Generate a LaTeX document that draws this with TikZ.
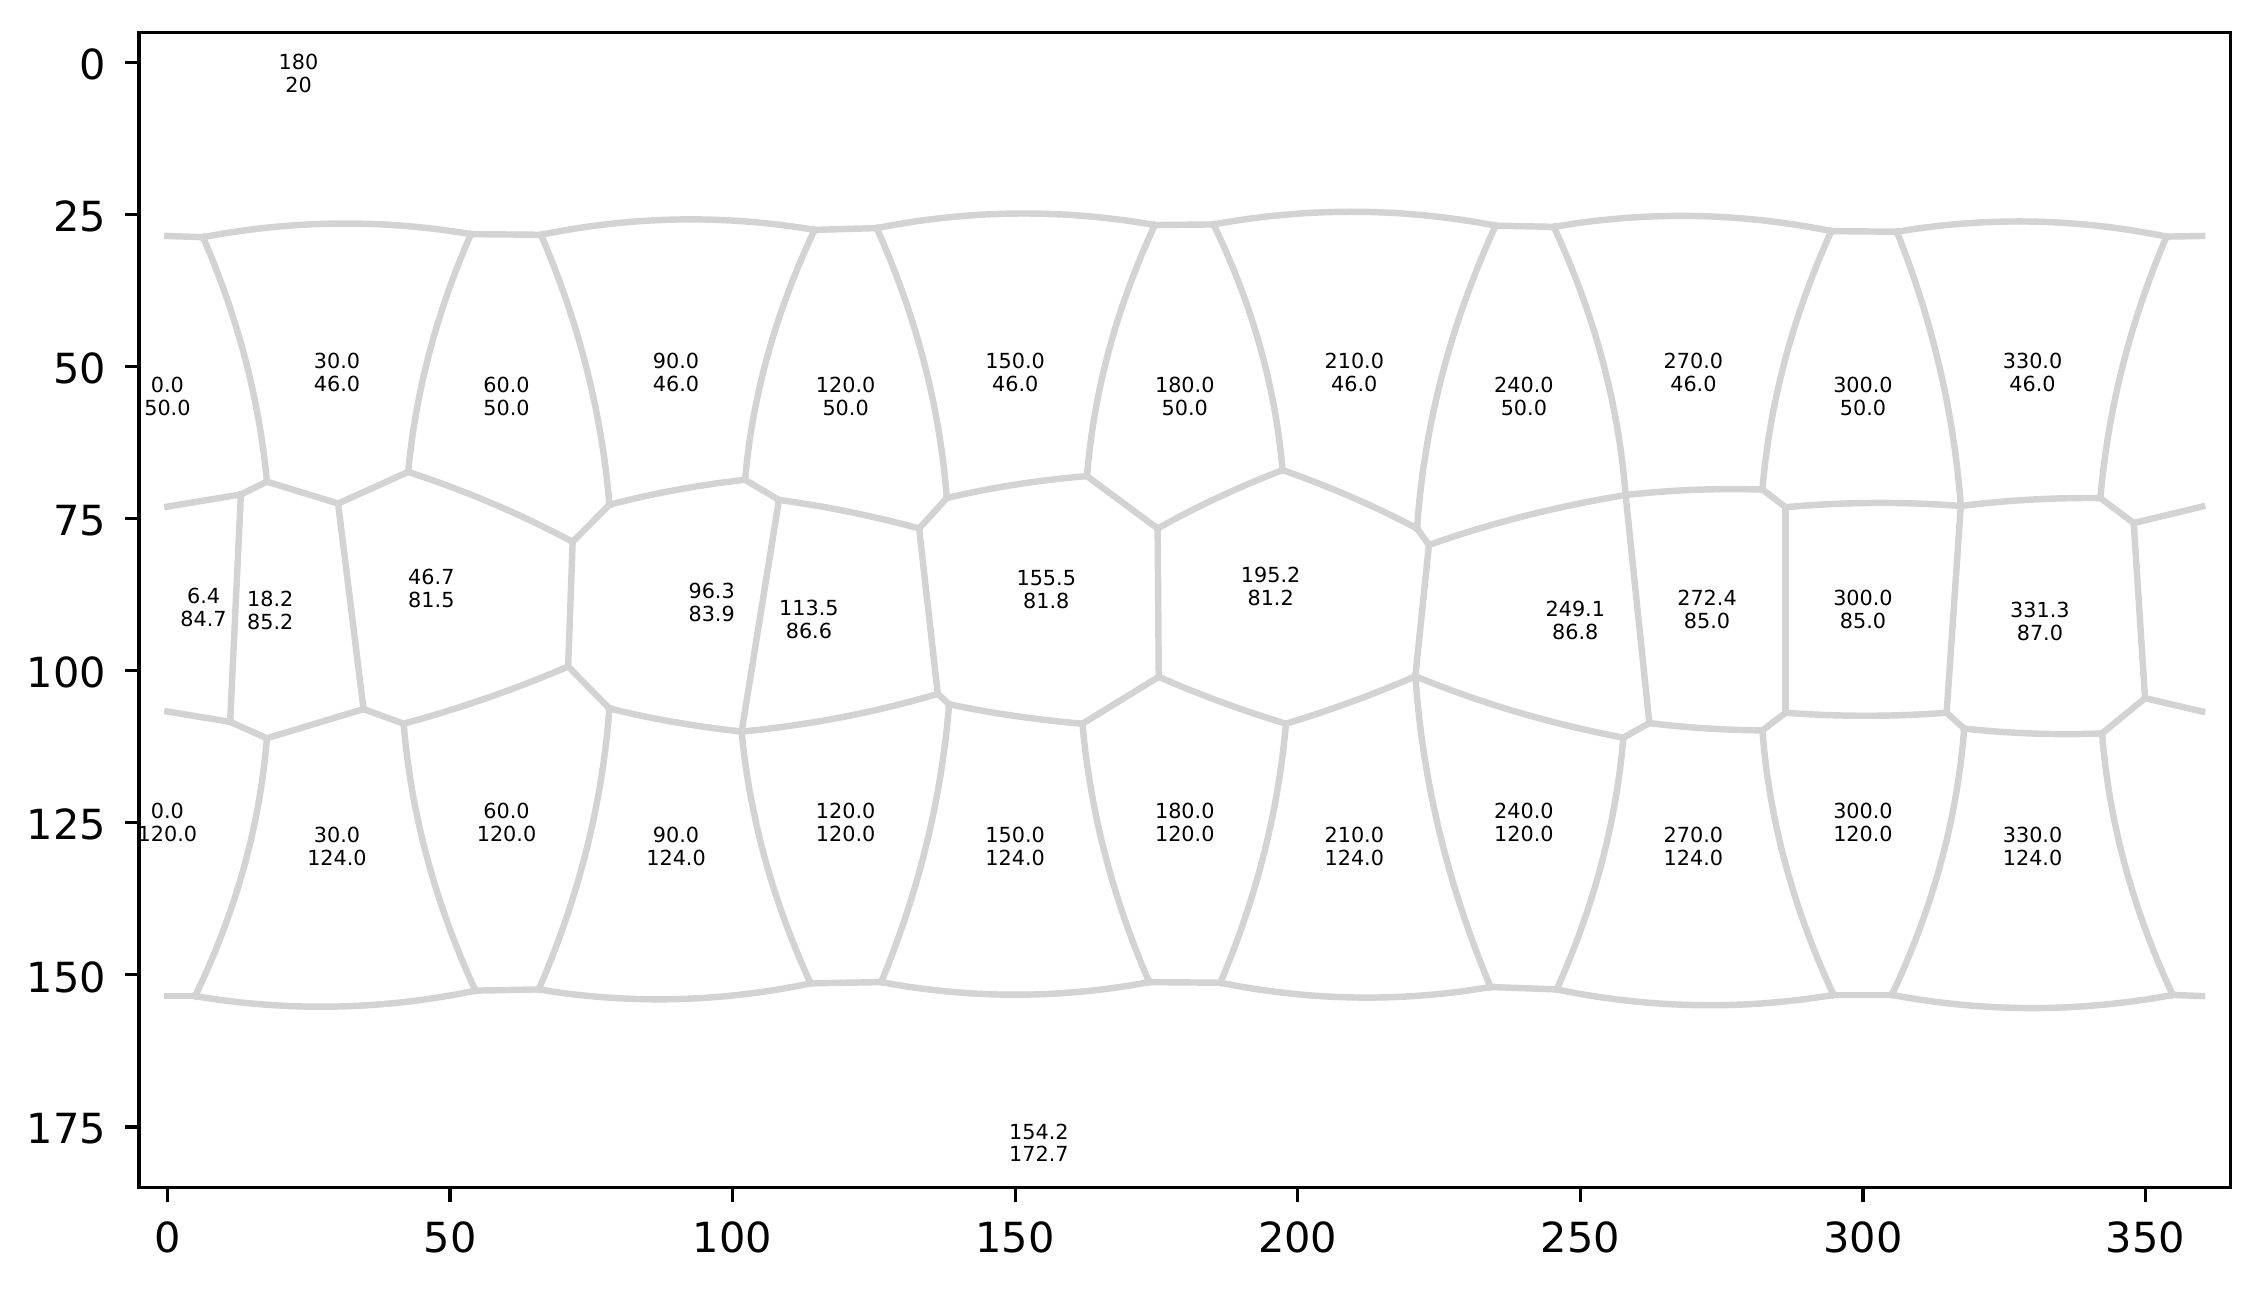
\documentclass[tikz,border=0pt]{standalone}
\usepackage{fontspec}
\setmainfont{DejaVu Sans}
\usepackage{tikz}
\usetikzlibrary{calc}

\definecolor{edgegray}{HTML}{D3D3D3}
\tikzset{
  cell/.style={draw=edgegray, line width=1.55pt, line cap=rect},
  axisframe/.style={draw=black, line width=0.8pt},
  lbl/.style={font=\fontsize{5}{5.5}\selectfont, align=center, inner sep=0pt, yshift=-7.2pt},
  ticklbl/.style={font=\fontsize{10}{12}\selectfont, inner sep=0pt}
}
% great-circle edge: from, to, offset of its middle from the chord middle
\newcommand{\gcarc}[4]{%
  \draw[cell] (#1) .. controls ($(#1)!1/3!(#2)+1.3333*(#3,#4)$)
    and ($(#1)!2/3!(#2)+1.3333*(#3,#4)$) .. (#2);}

\begin{document}
\begin{tikzpicture}[x=0.047853cm, y=-0.051477cm]
  \useasboundingbox (-29.62,-10.31) rectangle (370.95,201.69);

  % cell corners
  \foreach \n/\x/\y in {t0/0/28.5, t1/6.3/28.7, t2/53.7/28.2, t3/66.1/28.3, t4/114.5/27.5,
      t5/125.5/27.2, t6/174.7/26.7, t7/185.1/26.6, t8/235.0/26.8, t9/245.3/27.0,
      t10/294.4/27.7, t11/306.0/27.8, t12/353.7/28.6, t13/360/28.5}
    \coordinate (\n) at (\x,\y);
  \foreach \n/\x/\y in {u0/0/73.0, u1/13.0/71.0, u2/17.6/68.9, u3/30.2/72.5, u4/42.6/67.3,
      u5/71.7/78.8, u6/78.2/72.7, u7/102.2/68.6, u8/108.2/71.9, u9/133.0/76.6,
      u10/137.9/71.6, u11/162.7/68.0, u12/175.2/76.6, u13/197.3/67.0, u14/221.1/76.6,
      u15/223.2/79.3, u16/258.0/71.1, u17/282.2/70.2, u18/286.3/73.1, u19/317.3/72.9,
      u20/342.0/71.6, u21/347.9/75.7, u22/360/73.0}
    \coordinate (\n) at (\x,\y);
  \foreach \n/\x/\y in {l0/0/106.7, l1/11.1/108.4, l2/17.6/111.1, l3/34.7/106.3, l4/41.8/108.7,
      l5/70.9/99.3, l6/78.2/106.2, l7/101.6/110.0, l8/136.3/103.8, l9/138.3/105.5,
      l10/161.9/108.7, l11/175.4/101.0, l12/197.9/108.7, l13/220.8/100.9, l14/257.6/111.0,
      l15/262.2/108.6, l16/282.2/109.8, l17/286.3/106.9, l18/314.8/106.9, l19/317.9/109.5,
      l20/342.3/110.3, l21/349.9/104.5, l22/360/106.7}
    \coordinate (\n) at (\x,\y);
  \foreach \n/\x/\y in {b0/0/153.5, b1/4.9/153.5, b2/54.5/152.6, b3/65.7/152.4, b4/113.8/151.4,
      b5/126.3/151.2, b6/173.7/151.2, b7/186.3/151.3, b8/234.1/152.0, b9/245.8/152.4,
      b10/294.8/153.3, b11/305.1/153.3, b12/354.8/153.3, b13/360/153.5}
    \coordinate (\n) at (\x,\y);

  % straight edges
  \foreach \a/\b in {t0/t1, t2/t3, t4/t5, t6/t7, t8/t9, t10/t11, t12/t13,
      u0/u1, u1/u2, u2/u3, u3/u4, u5/u6, u7/u8, u9/u10, u11/u12, u14/u15, u17/u18,
      u20/u21, u21/u22,
      u1/l1, u3/l3, u5/l5, u8/l7, u9/l8, u12/l11, u15/l13, u16/l15, u18/l17, u19/l18, u21/l21,
      l0/l1, l1/l2, l2/l3, l3/l4, l5/l6, l8/l9, l10/l11, l14/l15, l16/l17, l18/l19,
      l20/l21, l21/l22,
      b0/b1, b2/b3, b4/b5, b6/b7, b8/b9, b10/b11, b12/b13}
    \draw[cell] (\a) -- (\b);

  % curved edges
  \foreach \a/\b/\dx/\dy in {t1/t2/0/-1.99, t3/t4/0/-2.11, t5/t6/0/-2.14, t7/t8/0/-2.18,
      t9/t10/0/-2.14, t11/t12/0/-2.07,
      t1/u2/1.81/-0.12, t2/u4/-1.78/-0.12, t3/u6/2.04/-0.14, t4/u7/-2.08/-0.15,
      t5/u10/2.17/-0.14, t6/u11/-2.09/-0.14, t7/u13/2.11/-0.14, t8/u14/-2.56/-0.18,
      t9/u16/2.24/-0.16, t10/u17/-2.07/-0.14, t11/u19/1.93/-0.12, t12/u20/-1.93/-0.13,
      u4/u5/0.46/-0.52, u6/u7/-0.15/-0.4, u8/u9/0.15/-0.36, u10/u11/-0.14/-0.44,
      u12/u13/-0.31/-0.32, u13/u14/0.33/-0.36, u15/u16/-0.34/-0.68, u16/u17/-0.03/-0.4,
      u18/u19/0/-0.6, u19/u20/-0.05/-0.39,
      l4/l5/0.3/0.44, l6/l7/-0.13/0.35, l7/l8/0.29/0.75, l9/l10/-0.1/0.34,
      l11/l12/-0.21/0.28, l12/l13/0.21/0.28, l13/l14/-0.48/0.81, l15/l16/-0.04/0.27,
      l17/l18/0/0.5, l19/l20/-0.03/0.42,
      l2/b1/2.25/0.15, l4/b2/-2.19/0.15, l6/b3/2.19/0.15, l7/b4/-1.99/0.14,
      l9/b5/2.01/0.14, l10/b6/-1.93/0.13, l12/b7/1.9/0.12, l13/b8/-2.36/0.16,
      l14/b9/2.0/0.13, l16/b10/-2.24/0.15, l19/b11/2.28/0.16, l20/b12/-2.21/0.15,
      b1/b2/0/2.17, b3/b4/0/2.1, b5/b6/0/2.07, b7/b8/0/2.08, b9/b10/0/2.13, b11/b12/0/2.17}
    {\gcarc{\a}{\b}{\dx}{\dy}}

  % point labels
  \foreach \lon/\col [count=\i] in {0.0/50.0, 30.0/46.0, 60.0/50.0, 90.0/46.0, 120.0/50.0,
      150.0/46.0, 180.0/50.0, 210.0/46.0, 240.0/50.0, 270.0/46.0, 300.0/50.0, 330.0/46.0}
    \node[lbl] (top\i) at (\lon,\col) {\lon\\\col};
  \foreach \lon/\col [count=\i] in {6.4/84.7, 18.2/85.2, 46.7/81.5, 96.3/83.9, 113.5/86.6,
      155.5/81.8, 195.2/81.2, 249.1/86.8, 272.4/85.0, 300.0/85.0, 331.3/87.0}
    \node[lbl] (mid\i) at (\lon,\col) {\lon\\\col};
  \foreach \lon/\col [count=\i] in {0.0/120.0, 30.0/124.0, 60.0/120.0, 90.0/124.0, 120.0/120.0,
      150.0/124.0, 180.0/120.0, 210.0/124.0, 240.0/120.0, 270.0/124.0, 300.0/120.0, 330.0/124.0}
    \node[lbl] (bot\i) at (\lon,\col) {\lon\\\col};
  \node[lbl] (north) at (23.2,-3.1) {180\\20};
  \node[lbl] (south) at (154.2,172.7) {154.2\\172.7};

  % axes
  \draw[axisframe] (-5,-5) rectangle (365,185);
  \foreach \x in {0,50,...,350} {
    \draw[axisframe] (\x,185) -- ++(0pt,-3.5pt);
    \node[ticklbl, anchor=north, yshift=-8pt] (xt\x) at (\x,185) {\x};
  }
  \foreach \y in {0,25,...,175} {
    \draw[axisframe] (-5,\y) -- ++(-3.5pt,0pt);
    \node[ticklbl, anchor=east, xshift=-7.8pt, yshift=-0.5pt] (yt\y) at (-5,\y) {\y};
  }
\end{tikzpicture}
\end{document}
